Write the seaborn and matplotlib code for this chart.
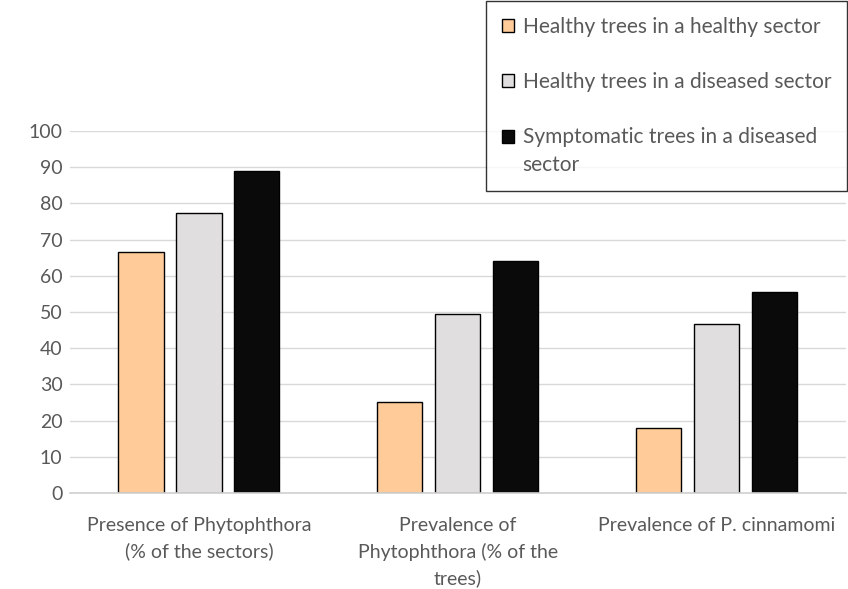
import pandas as pd
import seaborn as sns
import matplotlib.pyplot as plt
from matplotlib.patches import Patch, Rectangle
from matplotlib.legend_handler import HandlerPatch
from matplotlib.offsetbox import TextArea

# Data
categories = ["Presence of Phytophthora\n(% of the sectors)",
              "Prevalence of\nPhytophthora (% of the\ntrees)",
              "Prevalence of P. cinnamomi"]
series = ["Healthy trees in a healthy sector",
          "Healthy trees in a diseased sector",
          "Symptomatic trees in a diseased\nsector"]
healthy_healthy = [66.7, 25.0, 17.9]
healthy_diseased = [77.3, 49.5, 46.7]
symptomatic = [88.9, 64.2, 55.6]
colors = ["#FFCC99", "#E0DEDF", "#0A0A0A"]

df = pd.DataFrame({
    "category": categories * 3,
    "series": [series[0]] * 3 + [series[1]] * 3 + [series[2]] * 3,
    "value": healthy_healthy + healthy_diseased + symptomatic,
})

sns.set_style("white")
plt.rcParams['font.family'] = ['Lato', 'DejaVu Sans']
text_color = "#595959"
fs = 14

fig = plt.figure(figsize=(8.48, 5.89), dpi=100)
ax = fig.add_axes([0.082, 0.163, 0.916, 0.6146])

sns.barplot(data=df, x="category", y="value", hue="series", palette=colors,
            saturation=1, width=0.672, gap=0.224, edgecolor="black", linewidth=1.0,
            legend=False, ax=ax)

ax.set_xlim(-0.5, 2.5)
ax.set_ylim(0, 100)
ax.set_yticks(range(0, 101, 10))
ax.yaxis.grid(True, color="#D9D9D9", linewidth=1.0)
ax.set_axisbelow(True)
for s in ["left", "right", "top"]:
    ax.spines[s].set_visible(False)
ax.spines["bottom"].set_color("#D0D0D0")
ax.spines["bottom"].set_linewidth(1.2)
ax.tick_params(axis="y", length=0, labelsize=fs, colors=text_color, pad=5)
ax.tick_params(axis="x", length=0, labelsize=fs, colors=text_color, pad=17)
ax.set_xlabel("")
ax.set_ylabel("")
for lab in ax.get_xticklabels():
    lab.set_horizontalalignment("center")
    lab.set_linespacing(1.6)


# the marker of the two-line entry sits next to its first line
def top_line_patch(legend, orig_handle, xdescent, ydescent, width, height, fontsize):
    return Rectangle((-xdescent, -ydescent + 20), width, height)


handles = [Patch(facecolor=c, edgecolor="black", linewidth=1.0) for c in colors]
leg = fig.legend(handles, series, loc="upper right", bbox_to_anchor=(0.9985, 0.9985),
                 frameon=True, fancybox=False, fontsize=15, labelspacing=1.7,
                 handlelength=0.6, handleheight=0.6, handletextpad=0.4,
                 borderpad=0.75, borderaxespad=0.0,
                 handler_map={handles[2]: HandlerPatch(patch_func=top_line_patch)})
leg.get_frame().set_edgecolor("black")
leg.get_frame().set_linewidth(1.0)
for t in leg.get_texts():
    t.set_color(text_color)
    t.set_linespacing(1.5)
for ta in leg.findobj(TextArea):
    ta._multilinebaseline = False

fig.savefig("out.png", dpi=100)
